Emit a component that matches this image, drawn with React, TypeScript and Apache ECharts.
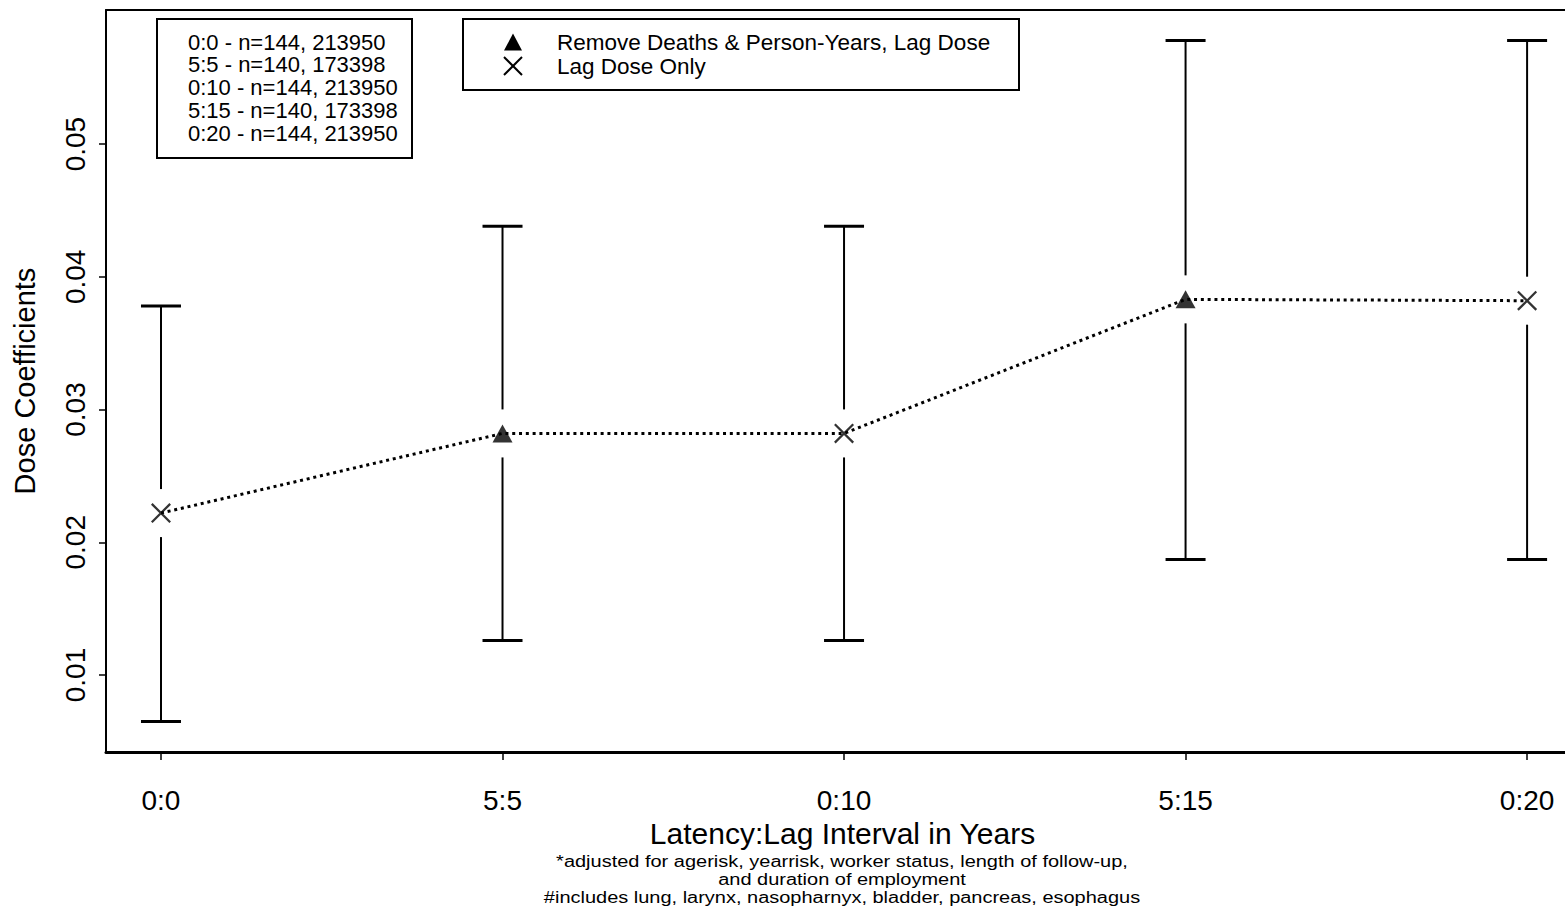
import React, { useEffect, useRef } from "react";
import * as echarts from "echarts";

const categories = ["0:0", "5:5", "0:10", "5:15", "0:20"];
const estimates = [0.0222, 0.0282, 0.0282, 0.0383, 0.0382];
const lowerBounds = [0.0065, 0.0126, 0.0126, 0.0187, 0.0187];
const upperBounds = [0.0378, 0.0438, 0.0438, 0.0578, 0.0578];
const methods = ["lag", "remove", "lag", "remove", "lag"];
const yTicks = [0.01, 0.02, 0.03, 0.04, 0.05];
const xTicks = [0, 1, 2, 3, 4];
const sampleNotes = [
  "0:0 - n=144, 213950",
  "5:5 - n=140, 173398",
  "0:10 - n=144, 213950",
  "5:15 - n=140, 173398",
  "0:20 - n=144, 213950",
];
const seriesNames = ["Remove Deaths & Person-Years, Lag Dose", "Lag Dose Only"];
const footnotes = [
  "*adjusted for agerisk, yearrisk, worker status, length of follow-up,",
  "and duration of employment",
  "#includes lung, larynx, nasopharnyx, bladder, pancreas, esophagus",
];

const FONT = "'Liberation Sans', Arial, Helvetica, sans-serif";
const X_PATH =
  "path://M0,1.6 L1.6,0 L20,18.4 L18.4,20 Z M18.4,0 L20,1.6 L1.6,20 L0,18.4 Z";

export default function App() {
  const ref = useRef<HTMLDivElement>(null);

  useEffect(() => {
    if (!ref.current) return;
    const chart = echarts.init(ref.current, null, { renderer: "svg" });

    const errData = categories.map((_, i) => [i, lowerBounds[i], upperBounds[i], estimates[i]]);
    const lineData = estimates.map((v, i) => [i, v]);
    const removeData = estimates.map((v, i) => [i, v]).filter((_, i) => methods[i] === "remove");
    const lagData = estimates.map((v, i) => [i, v]).filter((_, i) => methods[i] === "lag");

    const option: any = {
      animation: false,
      backgroundColor: "#fff",
      grid: { left: 106, right: 0, top: 10, bottom: 163 },
      xAxis: [
        {
          type: "value",
          min: -0.161,
          max: 4.111,
          axisLine: { show: true, onZero: false, lineStyle: { color: "#000", width: 3 } },
          axisTick: {
            show: true,
            customValues: xTicks,
            length: 8,
            lineStyle: { color: "#000", width: 1.5 },
          },
          axisLabel: {
            customValues: xTicks,
            formatter: (v: number) => categories[Math.round(v)] ?? "",
            fontSize: 28,
            color: "#000",
            fontFamily: FONT,
            margin: 34,
          },
          splitLine: { show: false },
          name: "Latency:Lag Interval in Years",
          nameLocation: "middle",
          nameGap: 64,
          nameTextStyle: { fontSize: 30, color: "#000", fontFamily: FONT, padding: [0, 0, 0, 14] },
        },
        {
          type: "value",
          position: "top",
          min: -0.161,
          max: 4.111,
          axisLine: { show: true, onZero: false, lineStyle: { color: "#000", width: 2 } },
          axisTick: { show: false },
          axisLabel: { show: false },
          splitLine: { show: false },
        },
      ],
      yAxis: {
        type: "value",
        min: 0.0042,
        max: 0.0601,
        axisLine: { show: true, onZero: false, lineStyle: { color: "#000", width: 2 } },
        axisTick: {
          show: true,
          customValues: yTicks,
          length: 7,
          lineStyle: { color: "#000", width: 1.5 },
        },
        axisLabel: {
          customValues: yTicks,
          formatter: (v: number) => v.toFixed(2),
          rotate: 90,
          fontSize: 28,
          color: "#000",
          fontFamily: FONT,
          margin: 17,
        },
        splitLine: { show: false },
        name: "Dose Coefficients",
        nameLocation: "middle",
        nameGap: 67,
        nameTextStyle: { fontSize: 29, color: "#000", fontFamily: FONT },
      },
      series: [
        {
          type: "custom",
          name: "ci",
          data: errData,
          encode: { x: 0, y: [1, 2, 3] },
          z: 2,
          renderItem: (params: any, api: any) => {
            const x = api.value(0);
            const lo = api.coord([x, api.value(1)]);
            const hi = api.coord([x, api.value(2)]);
            const mid = api.coord([x, api.value(3)]);
            const gap = 24;
            const half = 20;
            const st = { stroke: "#000", lineWidth: 2 };
            const cs = { stroke: "#000", lineWidth: 3 };
            return {
              type: "group",
              children: [
                { type: "line", shape: { x1: hi[0], y1: hi[1], x2: mid[0], y2: mid[1] - gap }, style: st },
                { type: "line", shape: { x1: mid[0], y1: mid[1] + gap, x2: lo[0], y2: lo[1] }, style: st },
                { type: "line", shape: { x1: hi[0] - half, y1: hi[1], x2: hi[0] + half, y2: hi[1] }, style: cs },
                { type: "line", shape: { x1: lo[0] - half, y1: lo[1], x2: lo[0] + half, y2: lo[1] }, style: cs },
              ],
            };
          },
        },
        {
          type: "line",
          name: "trend",
          data: lineData,
          symbol: "none",
          z: 3,
          lineStyle: { color: "#000", width: 3, type: [3, 3.8] },
        },
        {
          type: "scatter",
          name: seriesNames[0],
          data: removeData,
          symbol: "triangle",
          symbolSize: [20, 18],
          itemStyle: { color: "#000" },
          z: 4,
        },
        {
          type: "scatter",
          name: seriesNames[1],
          data: lagData,
          symbol: X_PATH,
          symbolSize: 20,
          itemStyle: { color: "#000" },
          z: 4,
        },
      ],
      graphic: [
        {
          type: "rect",
          shape: { x: 157, y: 19, width: 255, height: 139 },
          style: { fill: "#fff", stroke: "#000", lineWidth: 2 },
          z: 10,
        },
        ...sampleNotes.map((t, i) => ({
          type: "text",
          x: 188,
          y: 42 + i * 22.75,
          z: 11,
          style: {
            text: t,
            fontSize: 22,
            lineHeight: 21,
            fontFamily: FONT,
            fill: "#000",
            verticalAlign: "middle",
          },
        })),
        {
          type: "rect",
          shape: { x: 463, y: 19, width: 556, height: 71 },
          style: { fill: "#fff", stroke: "#000", lineWidth: 2 },
          z: 10,
        },
        {
          type: "polygon",
          shape: { points: [[504, 50.5], [522, 50.5], [513, 33.5]] },
          style: { fill: "#000" },
          z: 11,
        },
        {
          type: "line",
          shape: { x1: 504, y1: 57, x2: 522, y2: 75 },
          style: { stroke: "#000", lineWidth: 2 },
          z: 11,
        },
        {
          type: "line",
          shape: { x1: 522, y1: 57, x2: 504, y2: 75 },
          style: { stroke: "#000", lineWidth: 2 },
          z: 11,
        },
        ...seriesNames.map((t, i) => ({
          type: "text",
          x: 557,
          y: 42 + i * 24,
          z: 11,
          style: {
            text: t,
            fontSize: 22.5,
            lineHeight: 22,
            fontFamily: FONT,
            fill: "#000",
            verticalAlign: "middle",
          },
        })),
        ...footnotes.map((t, i) => ({
          type: "text",
          x: 842,
          y: [861, 879, 897][i],
          scaleY: 0.82,
          z: 11,
          style: {
            text: t,
            fontSize: 20,
            lineHeight: 20,
            fontFamily: FONT,
            fill: "#000",
            align: "center",
            verticalAlign: "middle",
          },
        })),
      ],
    };

    chart.setOption(option);
    return () => chart.dispose();
  }, []);

  return (
    <div
      ref={ref}
      style={{ position: "absolute", left: 0, top: 0, width: 1565, height: 915 }}
    />
  );
}
